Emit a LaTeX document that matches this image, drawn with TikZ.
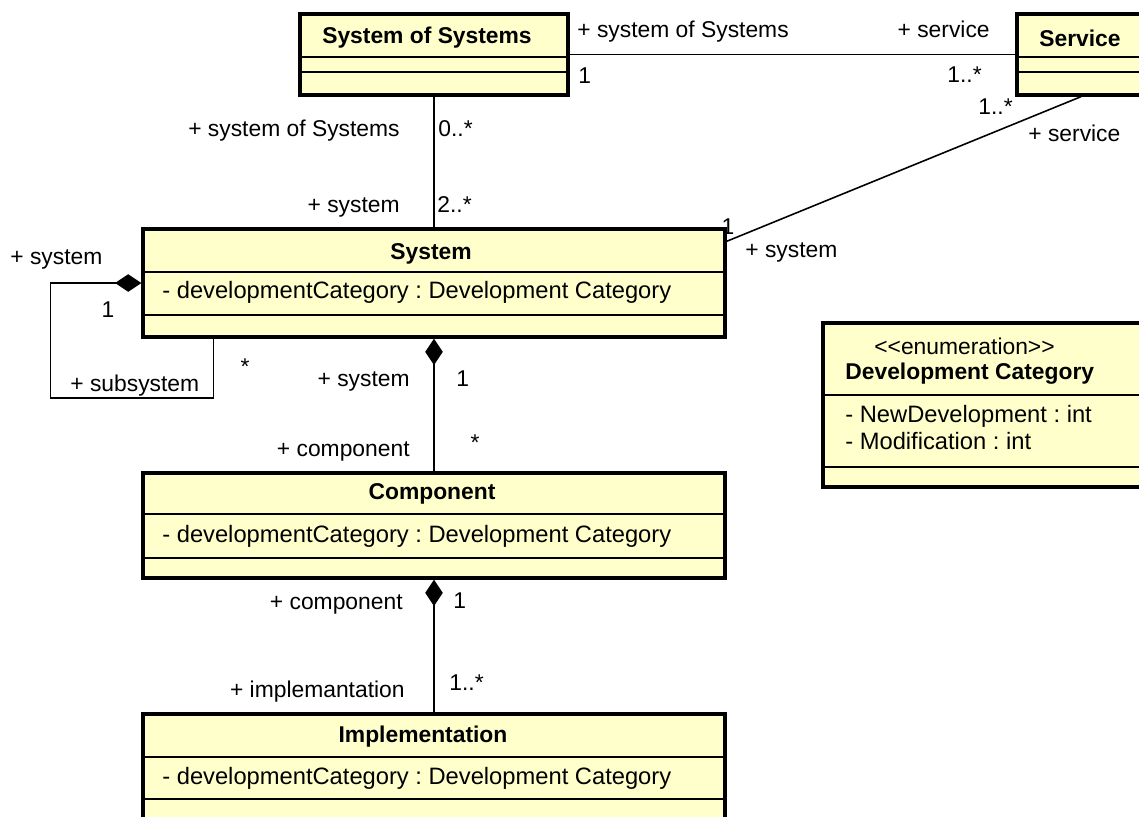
\documentclass[tikz,border=0pt]{standalone}
\usepackage{fontspec}
\setmainfont{Liberation Sans}[Ligatures=TeXOff]
\usetikzlibrary{arrows.meta}
\definecolor{classfill}{RGB}{255,255,204}
\newcommand\umlfont{\fontsize{13}{15.6}\selectfont\frenchspacing}
\newcommand\attrfont{\fontsize{13.5}{16}\selectfont\frenchspacing}
\begin{document}
\begin{tikzpicture}[x=0.02cm, y=-0.02cm, font=\umlfont,
	classbox/.style={draw, fill=classfill, line width=1.9pt, inner sep=0pt},
	classname/.style={font=\umlfont\bfseries, inner sep=0pt},
	attr/.style={font=\attrfont, inner sep=0pt, anchor=mid west},
	divider/.style={line width=1pt},
	assoc/.style={line width=0.9pt},
	compo/.style={line width=0.9pt, {Diamond[length=15pt, width=10pt]}-},
	role/.style={inner sep=0pt}]
	\useasboundingbox (0,0) rectangle (1139,816);

	\node [classbox, minimum width=5.36cm, minimum height=1.62cm] (sos) at (434,54.5) {};
	\node [classbox, minimum width=2.56cm, minimum height=1.62cm] (svc) at (1081,54.5) {};
	\node [classbox, minimum width=11.64cm, minimum height=2.16cm] (sys) at (434,283) {};
	\node [classbox, minimum width=11.64cm, minimum height=2.1cm] (comp) at (434,525.5) {};
	\node [classbox, minimum width=11.64cm, minimum height=2.16cm] (impl) at (434,768) {};
	\node [classbox, minimum width=6.54cm, minimum height=3.28cm] (enum) at (986.5,405) {};

	\draw [divider] (sos.west |- 0,57) -- (sos.east |- 0,57);
	\draw [divider] (sos.west |- 0,72) -- (sos.east |- 0,72);
	\draw [divider] (svc.west |- 0,57) -- (svc.east |- 0,57);
	\draw [divider] (svc.west |- 0,72) -- (svc.east |- 0,72);
	\draw [divider] (sys.west |- 0,272) -- (sys.east |- 0,272);
	\draw [divider] (sys.west |- 0,315) -- (sys.east |- 0,315);
	\draw [divider] (comp.west |- 0,514) -- (comp.east |- 0,514);
	\draw [divider] (comp.west |- 0,558) -- (comp.east |- 0,558);
	\draw [divider] (impl.west |- 0,757) -- (impl.east |- 0,757);
	\draw [divider] (impl.west |- 0,799) -- (impl.east |- 0,799);
	\draw [divider] (enum.west |- 0,395) -- (enum.east |- 0,395);
	\draw [divider] (enum.west |- 0,467) -- (enum.east |- 0,467);

	\node [classname] (sosname) at (427,38) {System of Systems};
	\node [classname] (svcname) at (1080,38) {Service};
	\node [classname] (sysname) at (431,254) {System};
	\node [attr] (sysattr) at (162,294) {- developmentCategory : Development Category};
	\node [classname] (compname) at (432,494) {Component};
	\node [attr] (compattr) at (162,538) {- developmentCategory : Development Category};
	\node [classname] (implname) at (423,737) {Implementation};
	\node [attr] (implattr) at (162,780) {- developmentCategory : Development Category};
	\node [role, anchor=mid west] (enumstereo) at (874,350) {<<enumeration>>};
	\node [classname, anchor=mid west] (enumname) at (845,375) {Development Category};
	\node [attr] (enumlit1) at (845,418) {- NewDevelopment : int};
	\node [attr] (enumlit2) at (845,445) {- Modification : int};

	\draw [assoc] (sos.east) -- (svc.west);
	\draw [assoc] (sos.south) -- (sys.north);
	\draw [assoc] (svc.south) -- ([yshift=-0.28cm]sys.north east);
	\draw [compo] (sys.south) -- (comp.north);
	\draw [compo] (comp.south) -- (impl.north);
	\draw [compo] (sys.west) -- ++(-91,0) -- ++(0,115) -| ([xshift=1.44cm]sys.south west);

	\node [role, anchor=mid west] (r1) at (577,33) {+ system of Systems};
	\node [role, anchor=mid east] (r2) at (990,33) {+ service};
	\node [role, anchor=mid west] (m1) at (578,79) {1};
	\node [role, anchor=mid east] (m2) at (982,78) {1..*};
	\node [role, anchor=mid east] (m3) at (1013,110) {1..*};
	\node [role, anchor=mid west] (r3) at (1028,137) {+ service};
	\node [role] (m4) at (728,227) {1};
	\node [role, anchor=mid west] (r4) at (745,253) {+ system};
	\node [role, anchor=mid east] (r5) at (400,132) {+ system of Systems};
	\node [role, anchor=mid west] (m5) at (438,132) {0..*};
	\node [role, anchor=mid east] (r6) at (400,208) {+ system};
	\node [role, anchor=mid west] (m6) at (437,208) {2..*};
	\node [role, anchor=mid west] (r7) at (10,260) {+ system};
	\node [role] (m7) at (108,310) {1};
	\node [role, anchor=mid west] (r8) at (70,387) {+ subsystem};
	\node [role] (m8) at (245,367) {*};
	\node [role, anchor=mid east] (r9) at (410,382) {+ system};
	\node [role, anchor=mid west] (m9) at (456,382) {1};
	\node [role, anchor=mid east] (r10) at (410,452) {+ component};
	\node [role] (m10) at (475,443) {*};
	\node [role, anchor=mid east] (r11) at (403,605) {+ component};
	\node [role, anchor=mid west] (m11) at (453,604) {1};
	\node [role, anchor=mid east] (r12) at (405,693) {+ implemantation};
	\node [role, anchor=mid west] (m12) at (449,686) {1..*};
\end{tikzpicture}
\end{document}
